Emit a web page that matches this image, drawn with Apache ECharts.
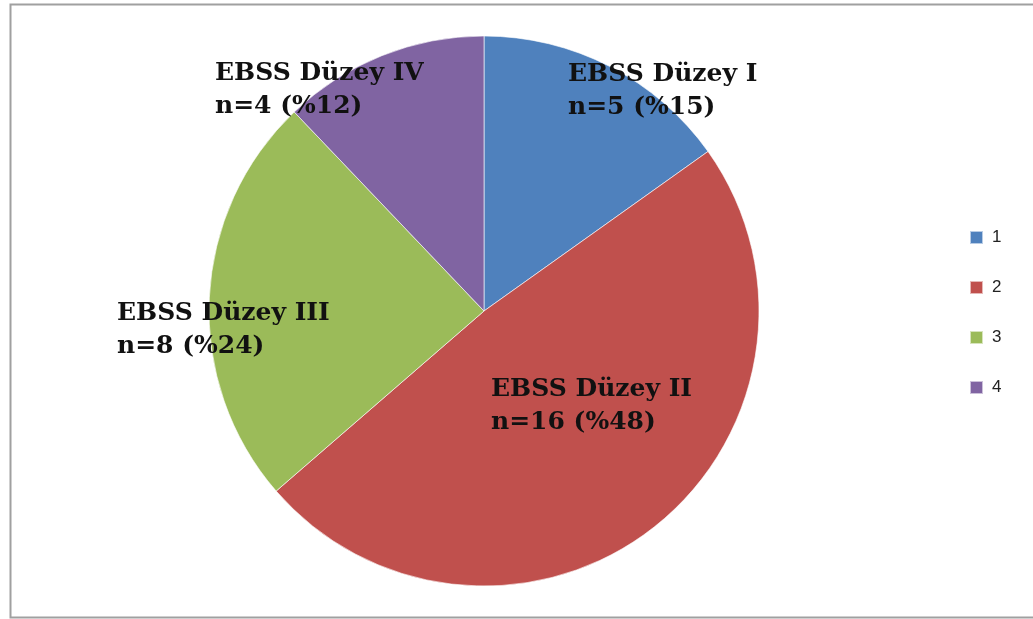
<!DOCTYPE html>
<html>
<head>
<meta charset="utf-8">
<script src="https://cdn.jsdelivr.net/npm/echarts@6/dist/echarts.min.js"></script>
<style>
  html, body { margin: 0; padding: 0; background: #fff; }
  #chart { width: 1033px; height: 619px; }
</style>
</head>
<body>
<div id="chart"></div>
<script>
// EBSS level distribution
const categories = ['1', '2', '3', '4'];
const levelNames = ['EBSS Düzey I', 'EBSS Düzey II', 'EBSS Düzey III', 'EBSS Düzey IV'];
const counts = [5, 16, 8, 4];
const percents = [15, 48, 24, 12];

const colors = ['#4F81BD', '#C0504D', '#9BBB59', '#8064A2'];
// anchor points (left/top) for each slice label
const labelSpots = [[568, 58], [491, 373], [117, 297], [215, 57]];

const chart = echarts.init(document.getElementById('chart'), null, { renderer: 'canvas' });

chart.setOption({
  animation: false,
  color: colors,
  graphic: [{
    type: 'rect',
    shape: { x: 10.5, y: 4.5, width: 1040, height: 613 },
    style: { fill: 'none', stroke: '#a0a0a0', lineWidth: 2 },
    silent: true
  }],
  legend: {
    orient: 'vertical',
    left: 964,
    top: 224,
    itemWidth: 13,
    itemHeight: 13,
    itemGap: 33,
    icon: 'rect',
    textStyle: { fontFamily: 'Liberation Sans', fontSize: 17, color: '#222', padding: [0, 0, 0, 4] },
    data: categories
  },
  series: [{
    type: 'pie',
    center: [484, 311],
    radius: 275,
    startAngle: 90,
    clockwise: true,
    itemStyle: { borderColor: 'rgba(255,255,255,0.6)', borderWidth: 1 },
    label: {
      show: true,
      position: 'inside',
      fontFamily: 'DejaVu Serif',
      fontWeight: 'bold',
      fontSize: 25,
      lineHeight: 33,
      color: '#111',
      align: 'left',
      verticalAlign: 'top',
      formatter: (p) => levelNames[p.dataIndex] + '\nn=' + counts[p.dataIndex] + ' (%' + percents[p.dataIndex] + ')'
    },
    labelLayout: (params) => ({
      x: labelSpots[params.dataIndex][0],
      y: labelSpots[params.dataIndex][1],
      align: 'left',
      verticalAlign: 'top'
    }),
    labelLine: { show: false },
    emphasis: { disabled: true },
    data: categories.map((c, i) => ({ name: c, value: counts[i] }))
  }]
});
</script>
</body>
</html>
